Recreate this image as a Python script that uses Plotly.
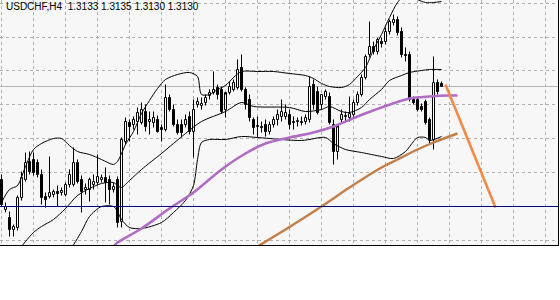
import plotly.graph_objects as go

# ---------------- data (USDCHF, H4) ----------------
bar_index = list(range(111))
open_ = [1.3037,1.3007,1.2999,1.2987,1.2989,1.3019,1.3037,1.3055,1.3057,1.3054,
         1.3042,1.3020,1.3020,1.3022,1.3025,1.3024,1.3022,1.3032,1.3032,1.3054,
         1.3037,1.3027,1.3027,1.3032,1.3034,1.3037,1.3039,1.3037,1.3027,1.3037,
         1.2995,1.3075,1.3094,1.3092,1.3095,1.3094,1.3105,1.3095,1.3094,1.3097,
         1.3089,1.3087,1.3119,1.3107,1.3092,1.3092,1.3092,1.3100,1.3085,1.3112,
         1.3111,1.3114,1.3121,1.3124,1.3129,1.3127,1.3107,1.3124,1.3127,1.3129,
         1.3149,1.3127,1.3117,1.3097,1.3090,1.3090,1.3092,1.3085,1.3092,1.3097,
         1.3100,1.3100,1.3102,1.3095,1.3095,1.3095,1.3095,1.3097,1.3132,1.3125,
         1.3112,1.3120,1.3120,1.3092,1.3065,1.3097,1.3101,1.3099,1.3102,1.3114,
         1.3122,1.3139,1.3162,1.3170,1.3165,1.3175,1.3175,1.3185,1.3194,1.3197,
         1.3185,1.3162,1.3162,1.3117,1.3117,1.3110,1.3115,1.3097,1.3077,1.3134,
         1.3133]
high = [1.3042,1.3014,1.3005,1.2992,1.3021,1.3045,1.3064,1.3065,1.3064,1.3057,
        1.3047,1.3024,1.3060,1.3027,1.3031,1.3029,1.3034,1.3047,1.3069,1.3057,
        1.3041,1.3033,1.3039,1.3042,1.3062,1.3042,1.3049,1.3041,1.3034,1.3040,
        1.3079,1.3099,1.3097,1.3100,1.3109,1.3114,1.3112,1.3105,1.3105,1.3101,
        1.3092,1.3132,1.3122,1.3112,1.3097,1.3097,1.3102,1.3105,1.3117,1.3119,
        1.3119,1.3122,1.3127,1.3145,1.3132,1.3130,1.3122,1.3135,1.3137,1.3157,
        1.3162,1.3129,1.3122,1.3099,1.3100,1.3095,1.3097,1.3095,1.3100,1.3107,
        1.3117,1.3112,1.3107,1.3100,1.3099,1.3100,1.3102,1.3140,1.3137,1.3130,
        1.3122,1.3127,1.3124,1.3097,1.3089,1.3107,1.3105,1.3120,1.3117,1.3125,
        1.3142,1.3162,1.3195,1.3175,1.3179,1.3179,1.3189,1.3197,1.3202,1.3200,
        1.3189,1.3169,1.3165,1.3120,1.3119,1.3113,1.3117,1.3099,1.3160,1.3137,
        1.3135]
low = [1.3010,1.3004,1.2980,1.2980,1.2986,1.3016,1.3035,1.3042,1.3041,1.3039,
       1.3012,1.3009,1.3018,1.3019,1.3010,1.3021,1.3020,1.3029,1.3030,1.3033,
       1.3004,1.3022,1.3015,1.3027,1.3031,1.3034,1.3014,1.3012,1.3024,1.2989,
       1.2989,1.3072,1.3075,1.3087,1.3082,1.3092,1.3085,1.3082,1.3089,1.3084,
       1.3075,1.3085,1.3105,1.3090,1.3082,1.3079,1.3089,1.3082,1.3059,1.3109,
       1.3107,1.3111,1.3117,1.3122,1.3117,1.3103,1.3099,1.3122,1.3125,1.3127,
       1.3125,1.3107,1.3095,1.3082,1.3079,1.3084,1.3080,1.3082,1.3089,1.3091,
       1.3095,1.3097,1.3087,1.3087,1.3090,1.3091,1.3092,1.3094,1.3107,1.3102,
       1.3107,1.3117,1.3092,1.3052,1.3057,1.3093,1.3095,1.3095,1.3099,1.3111,
       1.3120,1.3137,1.3159,1.3162,1.3162,1.3169,1.3172,1.3182,1.3191,1.3181,
       1.3159,1.3155,1.3115,1.3112,1.3105,1.3105,1.3092,1.3072,1.3067,1.3122,
       1.3130]
close = [1.3012,1.3010,1.2987,1.2990,1.3019,1.3039,1.3054,1.3045,1.3044,1.3042,
         1.3019,1.3017,1.3024,1.3025,1.3023,1.3026,1.3032,1.3042,1.3054,1.3035,
         1.3025,1.3029,1.3037,1.3035,1.3040,1.3039,1.3034,1.3027,1.3030,1.2994,
         1.3077,1.3095,1.3090,1.3097,1.3104,1.3107,1.3090,1.3097,1.3099,1.3085,
         1.3087,1.3119,1.3107,1.3092,1.3084,1.3084,1.3097,1.3085,1.3107,1.3115,
         1.3113,1.3119,1.3124,1.3127,1.3122,1.3105,1.3124,1.3130,1.3134,1.3147,
         1.3127,1.3112,1.3099,1.3089,1.3091,1.3089,1.3085,1.3092,1.3097,1.3102,
         1.3105,1.3104,1.3092,1.3094,1.3096,1.3094,1.3099,1.3130,1.3112,1.3104,
         1.3122,1.3125,1.3094,1.3065,1.3092,1.3102,1.3100,1.3103,1.3114,1.3122,
         1.3139,1.3160,1.3170,1.3165,1.3177,1.3173,1.3185,1.3195,1.3197,1.3184,
         1.3162,1.3161,1.3117,1.3114,1.3107,1.3107,1.3094,1.3077,1.3134,1.3125,
         1.3130]

# Bollinger bands (at selected bars)
bb_up_x = [0,2,4,6,8,10,13,15,17,19,22,25,28,29,30,31,33,35,37,39,41,44,47,49,50,52,54,56,58,60,
           64,68,72,76,78,80,82,85,87,89,91,93,95,97,99,101,103,104,106,108,110]
bb_up_y = [1.3014,1.3027,1.3031,1.3050,1.3067,1.3073,1.3078,1.3078,1.3071,1.3065,1.3062,1.3057,
           1.3052,1.3055,1.3063,1.3072,1.3085,1.3103,1.3116,1.3128,1.3137,1.3142,1.3144,1.3140,
           1.3122,1.3122,1.3127,1.3131,1.3139,1.3145,1.3145,1.3145,1.3143,1.3141,1.3138,1.3133,
           1.3130,1.3129,1.3132,1.3140,1.3149,1.3167,1.3182,1.3199,1.3214,1.3222,1.3220,1.3217,
           1.3214,1.3214,1.3215]
bb_mid_x = [2,4,6,8,10,13,16,19,22,25,28,29,30,32,35,40,46,50,56,60,63,72,76,80,82,85,87,90,92,
            95,97,100,102,105,107,110]
bb_mid_y = [1.2955,1.2965,1.2975,1.2984,1.2990,1.2997,1.3008,1.3021,1.3028,1.3033,1.3034,1.3031,
            1.3029,1.3036,1.3047,1.3063,1.3083,1.3095,1.3105,1.3114,1.3110,1.3109,1.3105,1.3107,
            1.3110,1.3105,1.3104,1.3109,1.3117,1.3127,1.3136,1.3141,1.3144,1.3146,1.3147,1.3147]
bb_low_x = [10,15,17,20,22,25,28,29,30,32,35,40,43,46,48,49,50,52,56,60,64,75,81,83,86,90,95,98,
            101,103,104,106,107,110]
bb_low_y = [1.2952,1.2959,1.2966,1.2985,1.3000,1.3010,1.3010,1.3005,1.2997,1.2989,1.2988,1.2994,
            1.3004,1.3016,1.3031,1.3057,1.3074,1.3077,1.3077,1.3080,1.3079,1.3076,1.3079,1.3073,
            1.3067,1.3064,1.3060,1.3058,1.3065,1.3075,1.3079,1.3079,1.3076,1.3080]

# moving averages (shifted forward, so they run past the last bar)
ma_fast_x = [28,29,35,42,48,55,61,66,72,78,83,89,95,102,107,112,114]
ma_fast_y = [1.2970,1.2974,1.2988,1.3008,1.3024,1.3047,1.3063,1.3073,1.3079,1.3084,1.3090,
             1.3100,1.3109,1.3118,1.3120,1.3121,1.3121]
ma_slow_x = [64,71,80,87,95,99,104,108,114]
ma_slow_y = [1.2970,1.2987,1.3010,1.3029,1.3049,1.3057,1.3067,1.3074,1.3083]

trend_x = [111, 123.5]
trend_y = [1.3132, 1.3009]

support_level = 1.3010
bid_price = 1.3130
title_text = "USDCHF,H4  1.3133 1.3135 1.3130 1.3130"

# ---------------- figure ----------------
fig = go.Figure()

up_x, up_base, up_h = [], [], []
dn_x, dn_base, dn_h = [], [], []
wick_x, wick_y = [], []
for i, o, h, l, c in zip(bar_index, open_, high, low, close):
    lo_b, hi_b = min(o, c), max(o, c)
    hgt = max(hi_b - lo_b, 0.00004)
    if c >= o:
        up_x.append(i); up_base.append(lo_b); up_h.append(hgt)
    else:
        dn_x.append(i); dn_base.append(lo_b); dn_h.append(hgt)
    wick_x += [i, i, None, i, i, None]
    wick_y += [h, hi_b, None, lo_b, l, None]

fig.add_trace(go.Bar(x=up_x, y=up_h, base=up_base, width=0.5,
                     marker=dict(color="white", line=dict(color="black", width=1)),
                     hoverinfo="skip"))
fig.add_trace(go.Bar(x=dn_x, y=dn_h, base=dn_base, width=0.5,
                     marker=dict(color="black", line=dict(color="black", width=1)),
                     hoverinfo="skip"))
fig.add_trace(go.Scatter(x=wick_x, y=wick_y, mode="lines",
                         line=dict(color="black", width=1), hoverinfo="skip"))

for bx, by in [(bb_up_x, bb_up_y), (bb_mid_x, bb_mid_y), (bb_low_x, bb_low_y)]:
    fig.add_trace(go.Scatter(x=bx, y=by, mode="lines",
                             line=dict(color="black", width=1, shape="spline", smoothing=0.8),
                             hoverinfo="skip"))

fig.add_trace(go.Scatter(x=ma_fast_x, y=ma_fast_y, mode="lines",
                         line=dict(color="#b06cc4", width=2.6, shape="spline", smoothing=0.8)))
fig.add_trace(go.Scatter(x=ma_slow_x, y=ma_slow_y, mode="lines",
                         line=dict(color="#c27e48", width=2.4, shape="spline", smoothing=0.8)))
fig.add_trace(go.Scatter(x=trend_x, y=trend_y, mode="lines",
                         line=dict(color="#f58a48", width=2.6)))

fig.add_hline(y=bid_price, line=dict(color="#b4b4b4", width=1), layer="below")
fig.add_hline(y=support_level, line=dict(color="#000080", width=1), layer="above")

fig.add_annotation(text=title_text, xref="paper", yref="paper", x=0.007, y=1.006,
                   xanchor="left", yanchor="top", showarrow=False,
                   font=dict(family="Liberation Sans", size=10, color="black"))

grid_style = dict(showgrid=True, gridcolor="#b0b0b0", griddash="3px,3px", gridwidth=1,
                  showticklabels=False, ticks="", zeroline=False,
                  showline=True, linecolor="black", linewidth=1)
fig.update_xaxes(range=[-0.375, 139.125], tick0=0, dtick=8, mirror=False, **grid_style)
fig.update_yaxes(range=[1.29715, 1.32165], tick0=support_level, dtick=0.00339, mirror=True,
                 **grid_style)

fig.update_layout(width=560, height=300, margin=dict(l=0, r=2, t=0, b=55),
                  paper_bgcolor="white", plot_bgcolor="#f7f7f7",
                  showlegend=False, barmode="overlay", bargap=0)

fig.write_html("out.html")
